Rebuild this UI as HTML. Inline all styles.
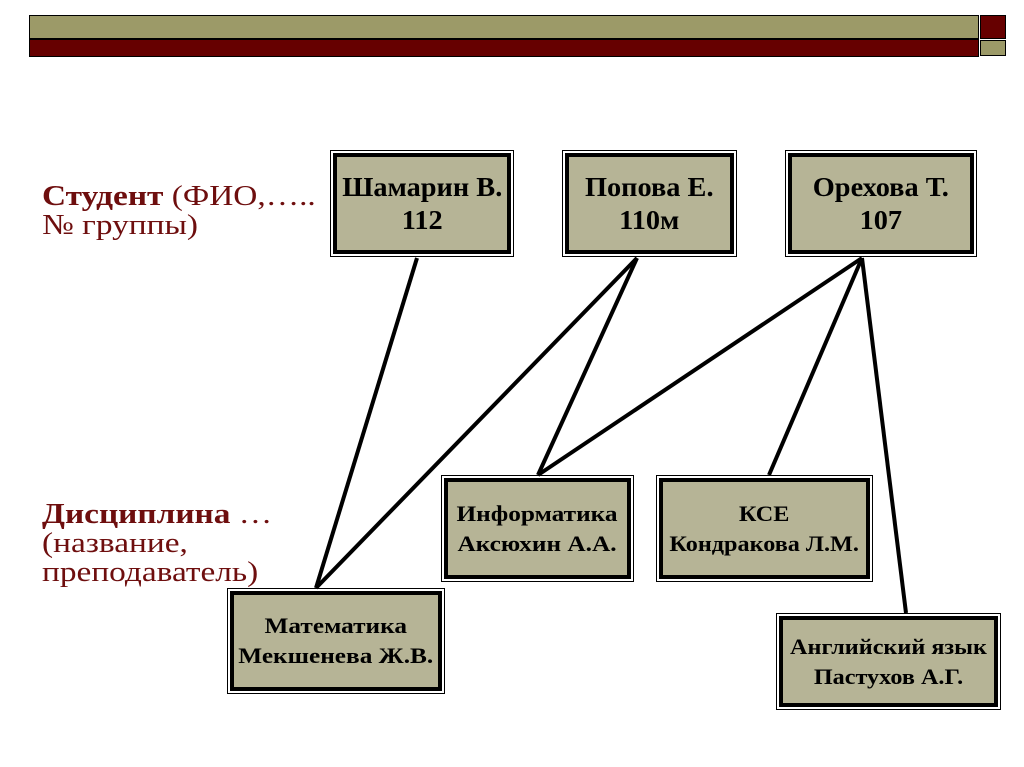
<!DOCTYPE html>
<html><head><meta charset="utf-8"><style>
body{margin:0;width:1024px;height:767px;background:#fff;position:relative;overflow:hidden;font-family:"Liberation Serif",serif}
.b{position:absolute;background:#b6b496;border:4px solid #000;outline:1px solid #000;outline-offset:2px;box-sizing:border-box;display:flex;align-items:center;justify-content:center;text-align:center;font-weight:bold;color:#000}
.b span{display:inline-block;transform:scaleX(1.15);white-space:nowrap}
.l{position:absolute;font-size:29px;line-height:29px;color:#6e0e0e;transform:scaleX(1.15);transform-origin:0 0;white-space:nowrap}
.r{font-weight:bold}
</style></head><body>
<div style="position:absolute;left:29px;top:15px;width:950px;height:24px;background:#9c9a68;border:1px solid #000;box-sizing:border-box"></div>
<div style="position:absolute;left:29px;top:39px;width:950px;height:18px;background:#660000;border:1px solid #000;box-sizing:border-box"></div>
<div style="position:absolute;left:980px;top:15px;width:26px;height:24px;background:#660000;border:1px solid #000;box-sizing:border-box"></div>
<div style="position:absolute;left:980px;top:40px;width:26px;height:16px;background:#9c9a68;border:1px solid #000;box-sizing:border-box"></div>
<svg style="position:absolute;left:0;top:0" width="1024" height="767">
<g stroke="#000" stroke-width="4">
<line x1="417" y1="258" x2="316" y2="588"/>
<line x1="637" y1="258" x2="316" y2="588"/>
<line x1="637" y1="258" x2="538" y2="475"/>
<line x1="862" y1="258" x2="538" y2="475"/>
<line x1="862" y1="258" x2="769" y2="475"/>
<line x1="862" y1="258" x2="906" y2="613"/>
</g></svg>
<div class="l" style="left:42px;top:182px"><span class="r">Студент</span> (ФИО,…..<br>№ группы)</div>
<div class="l" style="left:42px;top:500px"><span class="r">Дисциплина</span> …<br>(название,<br>преподаватель)</div>
<div class="b" style="left:333px;top:153px;width:178px;height:101px;font-size:27px;line-height:33px"><span style="transform:scaleX(1.05)">Шамарин В.<br>112</span></div>
<div class="b" style="left:565px;top:153px;width:169px;height:101px;font-size:27px;line-height:33px"><span style="transform:scaleX(1.05)">Попова Е.<br>110м</span></div>
<div class="b" style="left:788px;top:153px;width:186px;height:101px;font-size:27px;line-height:33px"><span style="transform:scaleX(1.05)">Орехова Т.<br>107</span></div>
<div class="b" style="left:444px;top:478px;width:187px;height:101px;font-size:22px;line-height:30px"><span>Информатика<br>Аксюхин А.А.</span></div>
<div class="b" style="left:659px;top:478px;width:211px;height:101px;font-size:22px;line-height:30px"><span style="transform:scaleX(1.1)">КСЕ<br>Кондракова Л.М.</span></div>
<div class="b" style="left:230px;top:591px;width:212px;height:100px;font-size:22px;line-height:30px"><span style="transform:scaleX(1.15)">Математика<br>Мекшенева Ж.В.</span></div>
<div class="b" style="left:779px;top:616px;width:219px;height:91px;font-size:22px;line-height:30px"><span style="transform:scaleX(1.1)">Английский язык<br>Пастухов А.Г.</span></div>
</body></html>
